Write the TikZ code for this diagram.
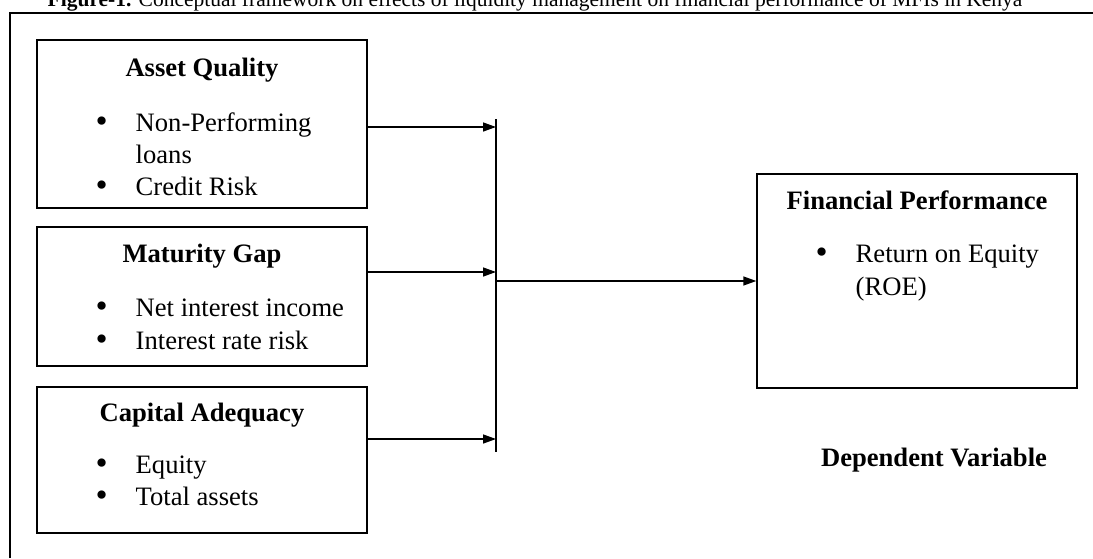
\documentclass[tikz,border=0pt]{standalone}
\usepackage{fontspec}
\setmainfont{Liberation Serif}
\usetikzlibrary{arrows.meta}

\newcommand\itemdot{\makebox[20pt][l]{\smash{\raisebox{-0.6pt}{\scalebox{1.3}{\textbullet}}}}}

\begin{document}
\begin{tikzpicture}[
x=0.5pt,y=-0.5pt,
every node/.style={
  inner sep=0pt,
  font=\fontsize{13.3}{16}\selectfont
  },
box/.style={
  draw,
  line width=0.7pt,
  minimum width=165pt
  },
title/.style={
  anchor=base,
  font=\fontsize{13.3}{16}\selectfont\bfseries
  },
bulleted/.style={
  anchor=base west
  },
outerline/.style={
  line width=1.1pt
  },
>={Triangle[length=6.5pt,width=4.5pt]},
line width=0.7pt
]
\useasboundingbox (0,0) rectangle (1093,558);
\clip (0,0) rectangle (1093,558);

\node[anchor=base west, font=\fontsize{10.75}{13}\selectfont] (cap) at (47,6.5)
  {\textbf{Figure-1.} Conceptual framework on effects of liquidity management on financial performance of MFIs in Kenya};
\draw[outerline] (10,558) -- (10,13) -- (1093,13);

% independent variables
\node[box, minimum height=84pt] (aq) at (202,124) {};
\node[box, minimum height=69.5pt] (mg) at (202,296.5) {};
\node[box, minimum height=73pt] (ca) at (202,460) {};
\node[title] (aq-t) at (202,76) {Asset Quality};
\node[title] (mg-t) at (202,262) {Maturity Gap};
\node[title] (ca-t) at (202,421) {Capital Adequacy};
\node[bulleted] (aq-1) at (95,131) {\itemdot Non-Performing};
\node[bulleted] (aq-2) at (135,163) {loans};
\node[bulleted] (aq-3) at (95,195) {\itemdot Credit Risk};
\node[bulleted] (mg-1) at (95,316) {\itemdot Net interest income};
\node[bulleted] (mg-2) at (95,349) {\itemdot Interest rate risk};
\node[bulleted] (ca-1) at (95,473) {\itemdot Equity};
\node[bulleted] (ca-2) at (95,505) {\itemdot Total assets};

% dependent variable
\node[box, minimum width=160pt, minimum height=107pt] (fp) at (917,281) {};
\node[title] (fp-t) at (917,209) {Financial Performance};
\node[bulleted] (fp-1) at (815,262) {\itemdot Return on Equity};
\node[bulleted] (fp-2) at (855,295) {(ROE)};
\node[title] (dv) at (934,466) {Dependent Variable};

% connectors
\coordinate (bar-top) at (496,119);
\coordinate (bar-bot) at (496,452);
\coordinate (in-1) at (496,127);
\coordinate (in-2) at (496,272);
\coordinate (in-3) at (496,439);
\draw (bar-top) -- (bar-bot);
\foreach \b [count=\i] in {aq,mg,ca}
  \draw[->] (\b.east |- in-\i) -- (in-\i);
\draw[->] (fp.west -| bar-top) -- (fp.west);
\end{tikzpicture}
\end{document}
